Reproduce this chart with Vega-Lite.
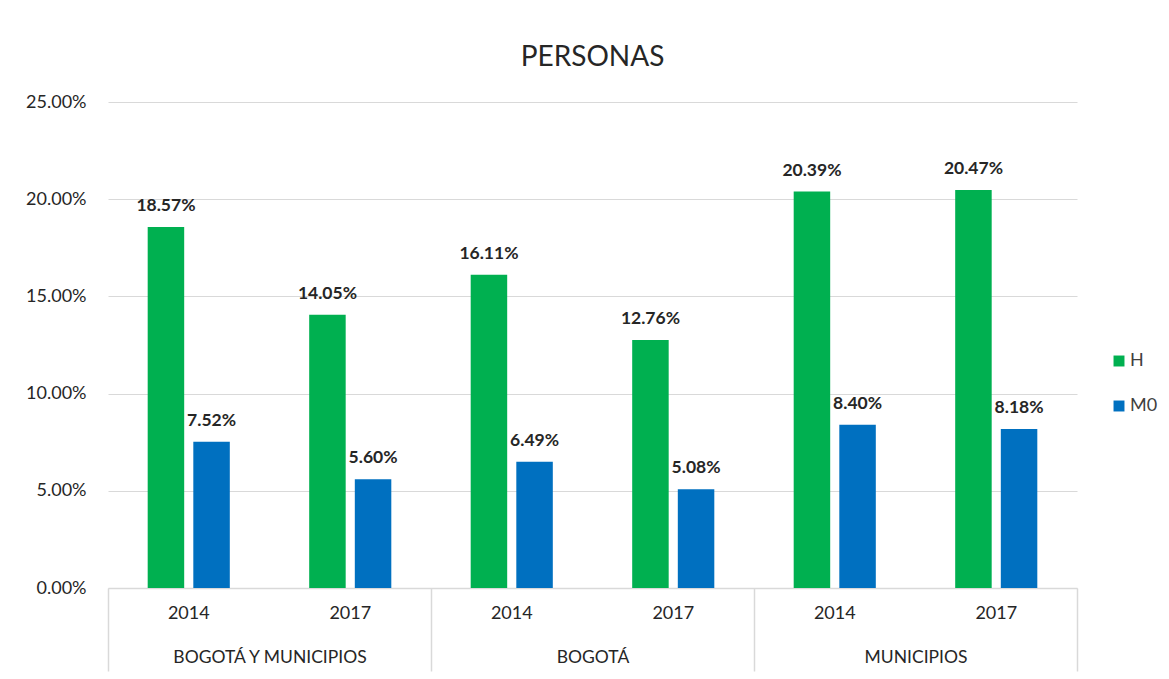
{
  "$schema": "https://vega.github.io/schema/vega-lite/v6.json",
  "autosize": "none",
  "width": 969,
  "height": 486,
  "padding": {"left": 108, "top": 102, "right": 92, "bottom": 91},
  "background": "white",
  "title": {"text": "PERSONAS", "fontSize": 28, "fontWeight": "normal", "font": "Lato", "color": "#262626", "offset": 21},
  "config": {
    "view": {"stroke": null},
    "font": "Lato",
    "axis": {"labelFont": "Lato", "labelFontSize": 18, "labelColor": "#262626", "labelLimit": 400},
    "legend": {"labelFont": "Lato", "labelFontSize": 18, "labelColor": "#404040"}
  },
  "data": {"values": [
    {"grupo": "BOGOTÁ Y MUNICIPIOS", "clave": "BOGOTÁ Y MUNICIPIOS|2014", "serie": "H", "valor": 0.1857},
    {"grupo": "BOGOTÁ Y MUNICIPIOS", "clave": "BOGOTÁ Y MUNICIPIOS|2014", "serie": "M0", "valor": 0.0752},
    {"grupo": "BOGOTÁ Y MUNICIPIOS", "clave": "BOGOTÁ Y MUNICIPIOS|2017", "serie": "H", "valor": 0.1405},
    {"grupo": "BOGOTÁ Y MUNICIPIOS", "clave": "BOGOTÁ Y MUNICIPIOS|2017", "serie": "M0", "valor": 0.0560},
    {"grupo": "BOGOTÁ", "clave": "BOGOTÁ|2014", "serie": "H", "valor": 0.1611},
    {"grupo": "BOGOTÁ", "clave": "BOGOTÁ|2014", "serie": "M0", "valor": 0.0649},
    {"grupo": "BOGOTÁ", "clave": "BOGOTÁ|2017", "serie": "H", "valor": 0.1276},
    {"grupo": "BOGOTÁ", "clave": "BOGOTÁ|2017", "serie": "M0", "valor": 0.0508},
    {"grupo": "MUNICIPIOS", "clave": "MUNICIPIOS|2014", "serie": "H", "valor": 0.2039},
    {"grupo": "MUNICIPIOS", "clave": "MUNICIPIOS|2014", "serie": "M0", "valor": 0.0840},
    {"grupo": "MUNICIPIOS", "clave": "MUNICIPIOS|2017", "serie": "H", "valor": 0.2047},
    {"grupo": "MUNICIPIOS", "clave": "MUNICIPIOS|2017", "serie": "M0", "valor": 0.0818}
  ]},
  "resolve": {"scale": {"x": "independent"}, "axis": {"x": "independent"}},
  "layer": [
    {
      "encoding": {
        "x": {
          "field": "clave", "type": "nominal",
          "scale": {
            "domain": ["BOGOTÁ Y MUNICIPIOS|2014", "BOGOTÁ Y MUNICIPIOS|2017", "BOGOTÁ|2014", "BOGOTÁ|2017", "MUNICIPIOS|2014", "MUNICIPIOS|2017"],
            "paddingInner": 0, "paddingOuter": 0
          },
          "axis": {
            "title": null, "orient": "bottom", "labelAngle": 0, "ticks": false,
            "domainColor": "#d9d9d9", "domainWidth": 1.5, "labelPadding": 16,
            "labelExpr": "split(datum.label, '|')[1]"
          }
        },
        "xOffset": {"field": "serie", "type": "nominal", "scale": {"domain": ["H", "M0"], "paddingInner": 0.2, "paddingOuter": 0.87}},
        "y": {
          "field": "valor", "type": "quantitative",
          "scale": {"domain": [0, 0.25], "nice": false},
          "axis": {
            "title": null, "format": ".2%", "values": [0, 0.05, 0.1, 0.15, 0.2, 0.25],
            "domain": false, "ticks": false, "labelPadding": 22,
            "gridColor": "#d9d9d9", "gridWidth": 1.2
          }
        }
      },
      "layer": [
        {
          "mark": {"type": "bar"},
          "encoding": {
            "color": {
              "field": "serie", "type": "nominal",
              "scale": {"domain": ["H", "M0"], "range": ["#00B050", "#0070C0"]},
              "legend": {"title": null, "orient": "none", "legendX": 1002, "legendY": 250, "symbolType": "square", "symbolSize": 120, "rowPadding": 27, "symbolStrokeWidth": 0, "labelOffset": 2}
            }
          }
        },
        {
          "mark": {"type": "text", "baseline": "bottom", "dy": -12, "fontWeight": "bold", "fontSize": 17.5, "color": "#262626"},
          "encoding": {
            "text": {"field": "valor", "type": "quantitative", "format": ".2%"}
          }
        }
      ]
    },
    {
      "mark": {"type": "point", "opacity": 0},
      "encoding": {
        "x": {
          "field": "grupo", "type": "nominal",
          "scale": {"domain": ["BOGOTÁ Y MUNICIPIOS", "BOGOTÁ", "MUNICIPIOS"], "paddingInner": 0, "paddingOuter": 0},
          "axis": {
            "title": null, "orient": "bottom", "labelAngle": 0, "domain": false,
            "ticks": true, "tickBand": "extent", "tickSize": 83, "tickColor": "#d9d9d9", "tickWidth": 1.5,
            "labelPadding": -23, "labelBaseline": "top", "labelFontSize": 17.5
          }
        },
        "y": {"field": "valor", "type": "quantitative"}
      }
    }
  ]
}
